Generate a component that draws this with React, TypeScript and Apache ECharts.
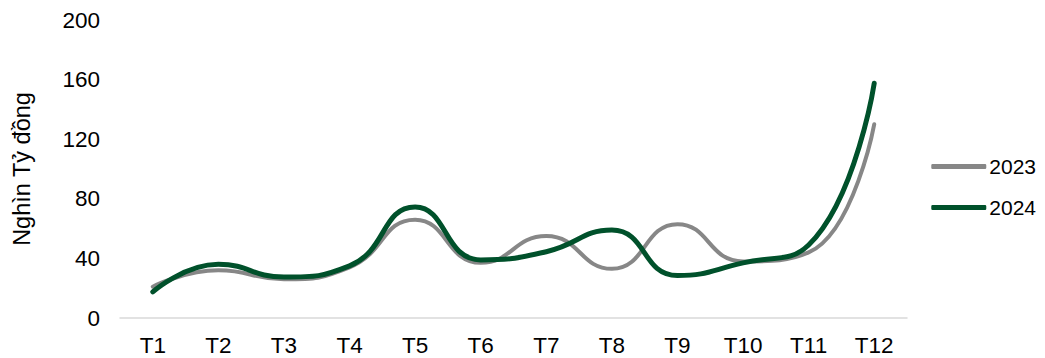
import React, { useEffect, useRef } from "react";
import * as echarts from "echarts";

const categories = ["T1", "T2", "T3", "T4", "T5", "T6", "T7", "T8", "T9", "T10", "T11", "T12"];
const series2023 = [21, 32, 26, 34, 66, 37, 55, 33, 63, 38, 44, 130];
const series2024 = [17.5, 36, 27.5, 35, 74.5, 39, 44.5, 59, 28.5, 37, 49, 157.5];
const yTicks = { min: 0, max: 200, interval: 40 };

export default function App() {
  const ref = useRef<HTMLDivElement>(null);
  useEffect(() => {
    const chart = echarts.init(ref.current!, null, { renderer: "svg" });
    const font = "'Liberation Sans', Arial, sans-serif";
    chart.setOption({
      animation: false,
      textStyle: { fontFamily: font },
      grid: { left: 120, right: 138, top: 20, bottom: 40, containLabel: false },
      legend: {
        orient: "vertical",
        right: 4,
        top: 151,
        itemWidth: 55,
        itemHeight: 5,
        itemGap: 20,
        icon: "roundRect",
        textStyle: { fontSize: 21, color: "#000", fontFamily: font, padding: [0, 0, 0, -2] },
        data: ["2023", "2024"],
      },
      xAxis: {
        type: "category",
        data: categories,
        boundaryGap: true,
        axisLine: { lineStyle: { color: "#d9d9d9", width: 1.5 } },
        axisTick: { show: false },
        axisLabel: { fontSize: 22.5, color: "#000", margin: 16, fontFamily: font },
      },
      yAxis: {
        type: "value",
        min: yTicks.min,
        max: yTicks.max,
        interval: yTicks.interval,
        name: "Nghìn Tỷ đồng",
        nameLocation: "middle",
        nameGap: 86,
        nameRotate: 90,
        nameTextStyle: { fontSize: 23.5, color: "#000", fontFamily: font },
        axisLine: { show: false },
        axisTick: { show: false },
        splitLine: { show: false },
        axisLabel: { fontSize: 22.5, color: "#000", margin: 20, fontFamily: font },
      },
      series: [
        {
          name: "2023",
          type: "line",
          data: series2023,
          smooth: 0.5,
          showSymbol: false,
          symbol: "none",
          lineStyle: { color: "#878787", width: 4, cap: "round" },
          itemStyle: { color: "#878787" },
        },
        {
          name: "2024",
          type: "line",
          data: series2024,
          smooth: 0.5,
          showSymbol: false,
          symbol: "none",
          lineStyle: { color: "#00512b", width: 5, cap: "round" },
          itemStyle: { color: "#00512b" },
        },
      ],
    });
    return () => chart.dispose();
  }, []);
  return <div ref={ref} style={{ width: 1045, height: 358, position: "absolute", left: 0, top: 0 }} />;
}
